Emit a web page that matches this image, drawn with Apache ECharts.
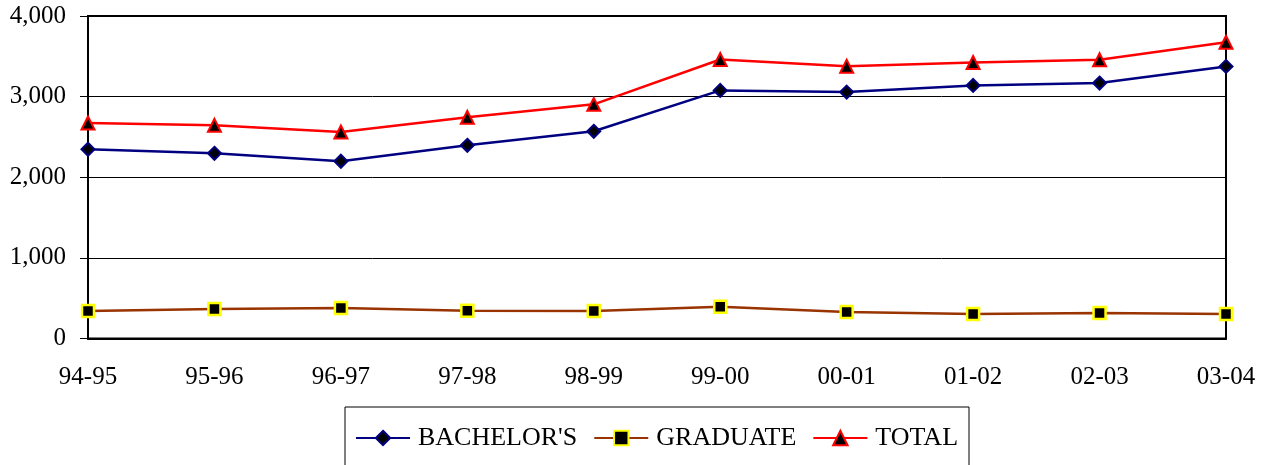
<!DOCTYPE html>
<html>
<head>
<meta charset="utf-8">
<script src="https://cdn.jsdelivr.net/npm/echarts@6/dist/echarts.min.js"></script>
<style>html,body{margin:0;padding:0;background:#fff}#c{width:1268px;height:465px}</style>
</head>
<body>
<div id="c"></div>
<script>
const categories = ['94-95','95-96','96-97','97-98','98-99','99-00','00-01','01-02','02-03','03-04'];
const bachelors = [2347, 2297, 2198, 2396, 2570, 3077, 3056, 3139, 3168, 3375];
const graduate  = [340, 365, 377, 345, 340, 394, 330, 303, 316, 303];
const total     = [2672, 2644, 2561, 2743, 2904, 3461, 3378, 3424, 3458, 3675];
const yTicks = [0, 1000, 2000, 3000, 4000];

const font = '"Liberation Serif","Times New Roman",serif';
const chart = echarts.init(document.getElementById('c'), null, {renderer:'canvas'});
chart.setOption({
  animation: false,
  backgroundColor: '#fff',
  grid: {left: 88, right: 42, top: 16, bottom: 126.5, show: true, borderColor: '#000', borderWidth: 2},
  xAxis: {
    type: 'category', data: categories, boundaryGap: false,
    axisLine: {lineStyle: {color: '#000', width: 2}},
    axisTick: {show: false},
    axisLabel: {color: '#000', fontFamily: font, fontSize: 25, margin: 26}
  },
  yAxis: {
    type: 'value', min: yTicks[0], max: yTicks[yTicks.length-1], interval: 1000,
    axisLine: {show: true, lineStyle: {color: '#000', width: 2}},
    axisTick: {show: true, length: 8, lineStyle: {color: '#000', width: 1}},
    axisLabel: {color: '#000', fontFamily: font, fontSize: 25, margin: 22,
      formatter: v => v.toLocaleString('en-US')},
    splitLine: {lineStyle: {color: '#000', width: 1}}
  },
  legend: {
    left: 345, top: 407,
    padding: [18, 11, 40, 10],
    borderColor: '#000', borderWidth: 1,
    itemWidth: 54, itemHeight: 18, itemGap: 16,
    textStyle: {color: '#000', fontFamily: font, fontSize: 26, padding: [0,0,0,3]},
    data: ["BACHELOR'S", 'GRADUATE', 'TOTAL']
  },
  series: [
    {name: "BACHELOR'S", type: 'line', data: bachelors, symbol: 'diamond', symbolSize: 13,
      lineStyle: {color: '#000080', width: 2.5},
      itemStyle: {color: '#000', borderColor: '#000080', borderWidth: 2}},
    {name: 'GRADUATE', type: 'line', data: graduate, symbol: 'rect', symbolSize: 12,
      lineStyle: {color: '#993300', width: 2.5},
      itemStyle: {color: '#000', borderColor: '#ffff00', borderWidth: 2.5}},
    {name: 'TOTAL', type: 'line', data: total, symbol: 'triangle', symbolSize: 13,
      lineStyle: {color: '#ff0000', width: 2.5},
      itemStyle: {color: '#000', borderColor: '#ff0000', borderWidth: 2}}
  ]
});
</script>
</body>
</html>
